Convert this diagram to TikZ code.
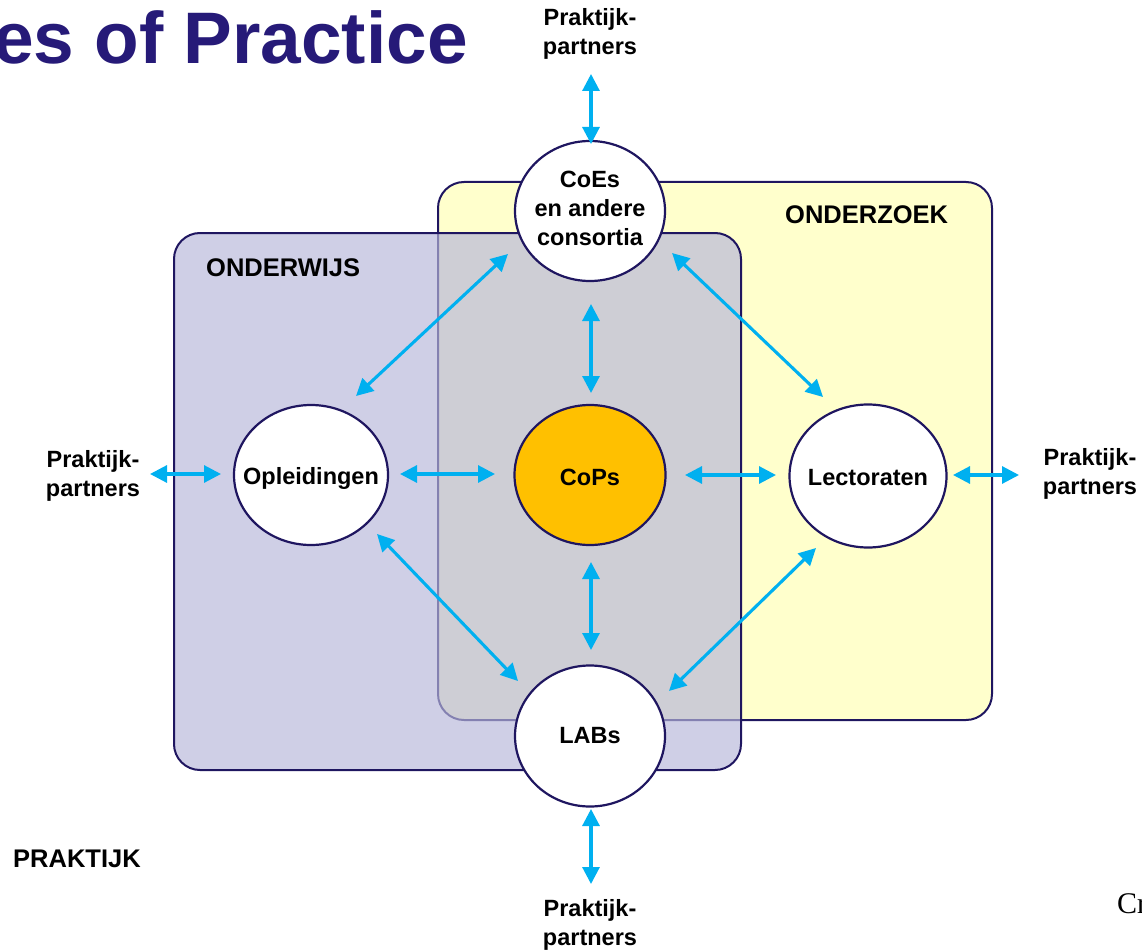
\documentclass[tikz,border=0pt]{standalone}
\usepackage{fontspec}
\setmainfont{Liberation Sans}
\newfontfamily\seriffont{Liberation Serif}
\usetikzlibrary{arrows.meta,shapes.geometric}
\definecolor{navy}{HTML}{1F1660}
\definecolor{titleblue}{HTML}{261A78}
\definecolor{cyanarr}{HTML}{00B0F0}
\definecolor{yel}{HTML}{FFFFCC}
\definecolor{purp}{RGB}{183,183,218}
\definecolor{copsfill}{HTML}{FFC000}
\tikzset{
  circ/.style={ellipse, draw=navy, line width=2.2pt, fill=white, inner sep=0pt},
  lbl/.style={align=center, font=\fontsize{23.5}{29}\selectfont\bfseries, inner sep=0pt},
  boxlbl/.style={font=\fontsize{25.5}{30}\selectfont\bfseries, inner sep=0pt},
  arr/.style={draw=cyanarr, line width=3.1pt, {Triangle[length=17pt,width=17pt]}-{Triangle[length=17pt,width=17pt]}},
}
\begin{document}
\begin{tikzpicture}[x=1pt,y=-1pt]
\useasboundingbox (0,0) rectangle (1142,952);
% title
\node[anchor=base east, inner sep=0pt, text=titleblue, font=\fontsize{73}{80}\selectfont\bfseries] (title) at (468,64) {es of Practice};
\node[anchor=base west, inner sep=0pt, font=\fontsize{30}{30}\selectfont\seriffont] (cr) at (1117,913) {Cr};
% boxes
\draw[navy, line width=2pt, fill=yel, rounded corners=26pt] (438,182) rectangle (992,720);
\fill[purp, fill opacity=0.67, rounded corners=26pt] (174,233) rectangle (741,770);
\draw[navy, line width=2pt, rounded corners=26pt] (174,233) rectangle (741,770);
\node[boxlbl, anchor=west] (onderwijs) at (206,268) {ONDERWIJS};
\node[boxlbl, anchor=west] (onderzoek) at (785,215) {ONDERZOEK};
\node[boxlbl, anchor=west] (praktijk) at (13,859) {PRAKTIJK};
% circles
\node[circ, minimum width=150pt, minimum height=140pt] (coes) at (590,211) {};
\node[lbl] (coestxt) at ([yshift=3pt]coes.center) {CoEs\\en andere\\consortia};
\node[circ, minimum width=154pt, minimum height=140pt] (opl) at (311,475) {};
\node[lbl] (opltxt) at ([yshift=-3pt]opl.center) {Opleidingen};
\node[circ, minimum width=151pt, minimum height=140pt, fill=copsfill] (cops) at (590,475) {};
\node[lbl] (copstxt) at ([yshift=-2pt]cops.center) {CoPs};
\node[circ, minimum width=157pt, minimum height=143pt] (lect) at (868,476) {};
\node[lbl] (lecttxt) at ([yshift=-2pt]lect.center) {Lectoraten};
\node[circ, minimum width=150pt, minimum height=141pt] (labs) at (590,736) {};
\node[lbl] (labstxt) at (labs.center) {LABs};
% partner labels
\node[lbl] (topp) at (590,34) {Praktijk-\\partners};
\node[lbl] (botp) at (590,925) {Praktijk-\\partners};
\node[lbl] (leftp) at (93,476) {Praktijk-\\partners};
\node[lbl] (rightp) at (1090,474) {Praktijk-\\partners};
% arrows
\draw[arr] ([shift={(1,40)}]topp.center) -- ([shift={(1,-67)}]coes.center);
\draw[arr] ([shift={(57,-2)}]leftp.center) -- ([shift={(-90,-1)}]opl.center);
\draw[arr] ([shift={(85,-1)}]lect.center) -- ([shift={(-71,1)}]rightp.center);
\draw[arr] ([shift={(1,73)}]labs.center) -- ([shift={(1,-41)}]botp.center);
\draw[arr] ([shift={(1,93)}]coes.center) -- ([shift={(1,-82)}]cops.center);
\draw[arr] ([shift={(1,87)}]cops.center) -- ([shift={(1,-86)}]labs.center);
\draw[arr] ([shift={(89,-1)}]opl.center) -- ([shift={(-95,-1)}]cops.center);
\draw[arr] ([shift={(95,0)}]cops.center) -- ([shift={(-92,-1)}]lect.center);
\draw[arr] ([shift={(-82,43)}]coes.center) -- ([shift={(45,-79)}]opl.center);
\draw[arr] ([shift={(82,42)}]coes.center) -- ([shift={(-45,-79)}]lect.center);
\draw[arr] ([shift={(66,59)}]opl.center) -- ([shift={(-72,-55)}]labs.center);
\draw[arr] ([shift={(-52,72)}]lect.center) -- ([shift={(79,-45)}]labs.center);
\end{tikzpicture}
\end{document}
